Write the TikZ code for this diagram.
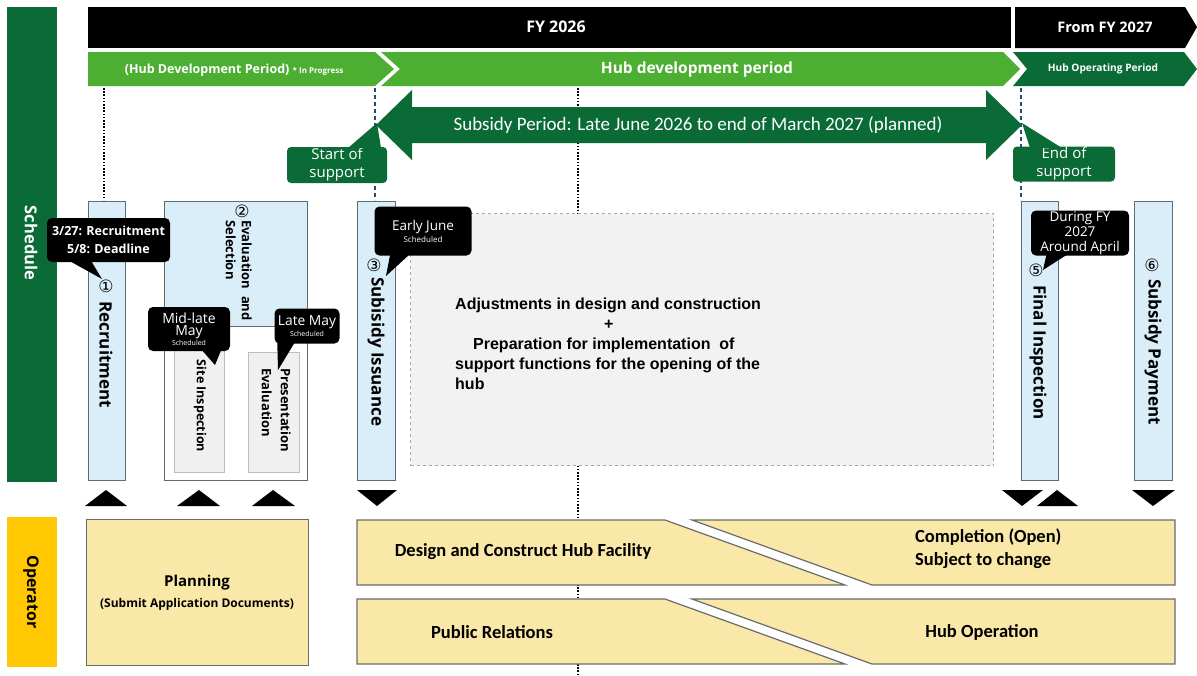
\documentclass[tikz,border=0pt]{standalone}
\usepackage{fontspec}
\setmainfont{Open Sans}
\newfontfamily\cbfont{Carlito}
\newfontfamily\dvfont{DejaVu Sans}
\newfontfamily\arfont{Liberation Sans}
\newcommand{\fsz}[2]{\fontsize{#1}{#2}\selectfont}
\definecolor{dgreen}{HTML}{0B6B37}
\definecolor{lgreen}{HTML}{4CAF32}
\definecolor{lblue}{HTML}{DAEEF9}
\definecolor{bborder}{HTML}{5F6B73}
\definecolor{lgray}{HTML}{F0F0F0}
\definecolor{gborder}{HTML}{BDBDBD}
\definecolor{dashfill}{HTML}{F2F2F2}
\definecolor{dashborder}{HTML}{A8A8A8}
\definecolor{opfill}{HTML}{F9E8A8}
\definecolor{opborder}{HTML}{6B6B6B}
\definecolor{baryellow}{HTML}{FFC800}
\definecolor{dblue}{HTML}{1F4E79}
\begin{document}
\begin{tikzpicture}[x=1pt,y=-1pt,
  box/.style={rectangle, inner sep=0pt, anchor=north west},
  vbox/.style={box, draw=bborder, fill=lblue, line width=1.2pt},
  grbox/.style={box, draw=gborder, fill=lgray, line width=0.8pt},
  opbox/.style={draw=opborder, fill=opfill, line width=1.2pt},
  vlabel/.style={rotate=-90, anchor=west, inner sep=0pt, font=\bfseries\fsz{17}{19}},
  circnum/.style={inner sep=0pt, font=\dvfont\fsz{17}{18}},
  bcall/.style={rectangle, fill=black, rounded corners=5pt, text=white, align=center, inner sep=0pt},
  gcall/.style={rectangle, fill=dgreen, rounded corners=4pt, text=white, align=center, inner sep=0pt, font=\fsz{15}{18}},
  tri/.style={fill=black},
  dotline/.style={black, line width=1.6pt, dash pattern=on 1.6pt off 1.6pt},
  blueline/.style={dblue, line width=2.6pt, dash pattern=on 4pt off 3pt},
  optext/.style={inner sep=0pt, text=black, font=\cbfont\bfseries\fsz{18.5}{23}},
  white text/.style={text=white, inner sep=0pt}
]
\useasboundingbox (0,0) rectangle (1197,675);

% dotted guide lines
\coordinate (d1a) at (104,88); \coordinate (d1b) at (104,200);
\coordinate (d2a) at (375,88); \coordinate (d2b) at (375,200);
\coordinate (d3a) at (578,88); \coordinate (d3b) at (578,675);
\coordinate (d4a) at (1021,88); \coordinate (d4b) at (1021,200);
\draw[dotline] (d1a) -- (d1b);
\draw[dotline] (d3a) -- (d3b);
\draw[blueline] (d2a) -- (d2b);
\draw[blueline] (d4a) -- (d4b);

% side bars
\node[box, fill=dgreen, minimum width=50pt, minimum height=475pt] (schedbar) at (7,7) {};
\node[rotate=-90, white text, font=\bfseries\fsz{16.5}{18}] (sched) at (31,243) {Schedule};
\node[box, fill=baryellow, minimum width=50pt, minimum height=150pt] (operbar) at (7,517) {};
\node[rotate=-90, inner sep=0pt, text=black, font=\bfseries\fsz{16}{18}] (oper) at (31,592) {Operator};

% black year bands
\fill[black] (88,7) rectangle (1011,48);
\fill[black] (1015,7) -- (1185,7) -- (1197,27) -- (1185,48) -- (1015,48) -- cycle;
\node[white text, font=\bfseries\fsz{16}{20}] (fy26) at (556,27) {FY 2026};
\node[white text, font=\bfseries\fsz{14.5}{18}] (fy27) at (1105,27) {From FY 2027};

% green period bands
\fill[lgreen] (88,52) -- (375,52) -- (394,69) -- (375,86) -- (88,86) -- cycle;
\fill[lgreen] (381,52) -- (1003,52) -- (1020,69) -- (1003,86) -- (381,86) -- (400,69) -- cycle;
\fill[dgreen] (1013,52) -- (1184,52) -- (1197,69) -- (1184,86) -- (1013,86) -- (1027,69) -- cycle;
\node[white text, font=\bfseries] (hdp0) at (234,70) {\fsz{12.5}{15}(Hub Development Period) \fsz{8}{10}* In Progress};
\node[white text, font=\bfseries\fsz{15.5}{18}] (hdp) at (697,69) {Hub development period};
\node[white text, font=\bfseries\fsz{10.2}{12}] (hop) at (1103,69) {Hub Operating Period};

% subsidy double arrow
\fill[dgreen] (376,125) -- (412,90) -- (412,107) -- (986,107) -- (986,90) -- (1022,125)
  -- (986,160) -- (986,143) -- (412,143) -- (412,160) -- cycle;
\node[white text, font=\cbfont\fsz{19}{22}] (subp) at (698,125) {Subsidy Period: Late June 2026 to end of March 2027 (planned)};

% start / end callouts
\node[gcall, minimum width=100pt, minimum height=36pt] (start) at (337,165) {Start of\\support};
\fill[dgreen] (348,148) -- (377,123) -- (381,148) -- cycle;
\node[gcall, minimum width=102pt, minimum height=35pt] (endsup) at (1064,164) {End of\\support};
\fill[dgreen] (1022,123) -- (1062,148) -- (1030,148) -- cycle;

% schedule boxes
\node[vbox, minimum width=37pt, minimum height=279pt] (brec) at (88,201) {};
\node[box, draw=bborder, fill=white, line width=1.2pt, minimum width=143pt, minimum height=279pt] (beval) at (164,201) {};
\node[vbox, minimum width=143pt, minimum height=125pt] (bevaltop) at (164,201) {};
\node[grbox, minimum width=50pt, minimum height=122pt] (bsite) at (174,350) {};
\node[grbox, minimum width=51pt, minimum height=120pt] (bpres) at (248,352) {};
\node[vbox, minimum width=38pt, minimum height=279pt] (biss) at (357,201) {};
\node[box, draw=dashborder, fill=dashfill, dashed, line width=1pt, minimum width=583pt, minimum height=252pt] (bwork) at (410,213) {};
\node[vbox, minimum width=37pt, minimum height=279pt] (bfin) at (1021,201) {};
\node[vbox, minimum width=38pt, minimum height=279pt] (bpay) at (1134,201) {};

% labels in boxes
\node[circnum] (n1) at (106,286) {①};
\node[vlabel] (lrec) at (106,301) {Recruitment};
\node[circnum] (n2) at (242,211) {②};
\node[rotate=-90, anchor=north west, align=left, inner sep=0pt, font=\bfseries\fsz{13}{16}] (leval) at (252,220) {Evaluation\ \ and\\Selection};
\node[rotate=-90, inner sep=0pt, font=\bfseries\fsz{12.5}{15}] (lsite) at (200,406) {Site Inspection};
\node[rotate=-90, anchor=north west, align=left, inner sep=0pt, font=\bfseries\fsz{13}{19}] (lpres) at (291,368) {Presentation\\Evaluation};
\node[circnum] (n3) at (374,265) {③};
\node[vlabel] (liss) at (376,277) {Subisidy Issuance};
\node[circnum] (n5) at (1036,270) {⑤};
\node[vlabel] (lfin) at (1038,285) {Final Inspection};
\node[circnum] (n6) at (1152,265) {⑥};
\node[vlabel] (lpay) at (1153,279) {Subsidy Payment};

\node[anchor=north west, align=left, inner sep=0pt, font=\arfont\bfseries\fsz{16}{20}] (lwork) at (455,298)
 {Adjustments in design and construction\\
  \hspace*{149pt}+\\
  \hspace*{18pt}Preparation for implementation\ \ of\\
  support functions for the opening of the\\
  hub};

% black callouts
\node[bcall, minimum width=123pt, minimum height=44pt, font=\bfseries\fsz{12.5}{18}] (crec) at (108.5,240) {3/27: Recruitment\\5/8: Deadline};
\fill[black] (66,259) -- (102,279) -- (90,259) -- cycle;
\node[bcall, minimum width=82pt, minimum height=44pt] (cmid) at (189,329)
 {\fsz{14}{16}Mid-late\\\fsz{14}{16}May\\[-2pt]\fsz{7}{8}Scheduled};
\fill[black] (200,348) -- (215,365) -- (222,348) -- cycle;
\node[bcall, minimum width=65pt, minimum height=35pt] (clate) at (307,326)
 {\fsz{13.8}{15}Late May\\[-1pt]\fsz{7}{8}Scheduled};
\fill[black] (277,332) -- (278,370) -- (295,342) -- cycle;
\node[bcall, minimum width=97pt, minimum height=49pt] (cjune) at (423,231)
 {\fsz{13.5}{15}Early June\\\fsz{8}{9}Scheduled};
\fill[black] (391,250) -- (386,276) -- (410,254) -- cycle;
\node[bcall, minimum width=98pt, minimum height=45pt, font=\fsz{13.5}{15}] (capr) at (1080,233) {During FY\\2027\\Around April};
\fill[black] (1047,252) -- (1043,270) -- (1068,254) -- cycle;

% triangles between schedule and operator
\fill[tri] (85,506) -- (106,490) -- (127,506) -- cycle;
\fill[tri] (177,506) -- (199,490) -- (220,506) -- cycle;
\fill[tri] (252,506) -- (273,490) -- (295,506) -- cycle;
\fill[tri] (357,490) -- (377,506) -- (397,490) -- cycle;
\fill[tri] (1002,490) -- (1022,506) -- (1043,490) -- cycle;
\fill[tri] (1037,506) -- (1057,490) -- (1078,506) -- cycle;
\fill[tri] (1132,490) -- (1153,506) -- (1175,490) -- cycle;

% operator boxes
\node[box, draw=opborder, fill=opfill, line width=1.2pt, minimum width=222pt, minimum height=146pt] (bplan) at (86,519) {};
\node[inner sep=0pt, font=\bfseries\fsz{15}{18}] (lplan) at (197,583) {Planning};
\node[inner sep=0pt, font=\bfseries\fsz{12}{14}] (lsubmit) at (197,604) {(Submit Application Documents)};

\draw[opbox] (357,520) -- (665,520) -- (845,585) -- (357,585) -- cycle;
\draw[opbox] (692,520) -- (1175,520) -- (1175,585) -- (872,585) -- cycle;
\draw[opbox] (357,599) -- (665,599) -- (845,664) -- (357,664) -- cycle;
\draw[opbox] (692,599) -- (1175,599) -- (1175,664) -- (872,664) -- cycle;
\node[optext] (ldesign) at (523,552) {Design and Construct Hub Facility};
\node[optext, anchor=west, align=left] (lcomp) at (915,549) {Completion (Open)\\Subject to change};
\node[optext] (lpr) at (492,632) {Public Relations};
\node[optext] (lhubop) at (982,632) {Hub Operation};
\end{tikzpicture}
\end{document}
